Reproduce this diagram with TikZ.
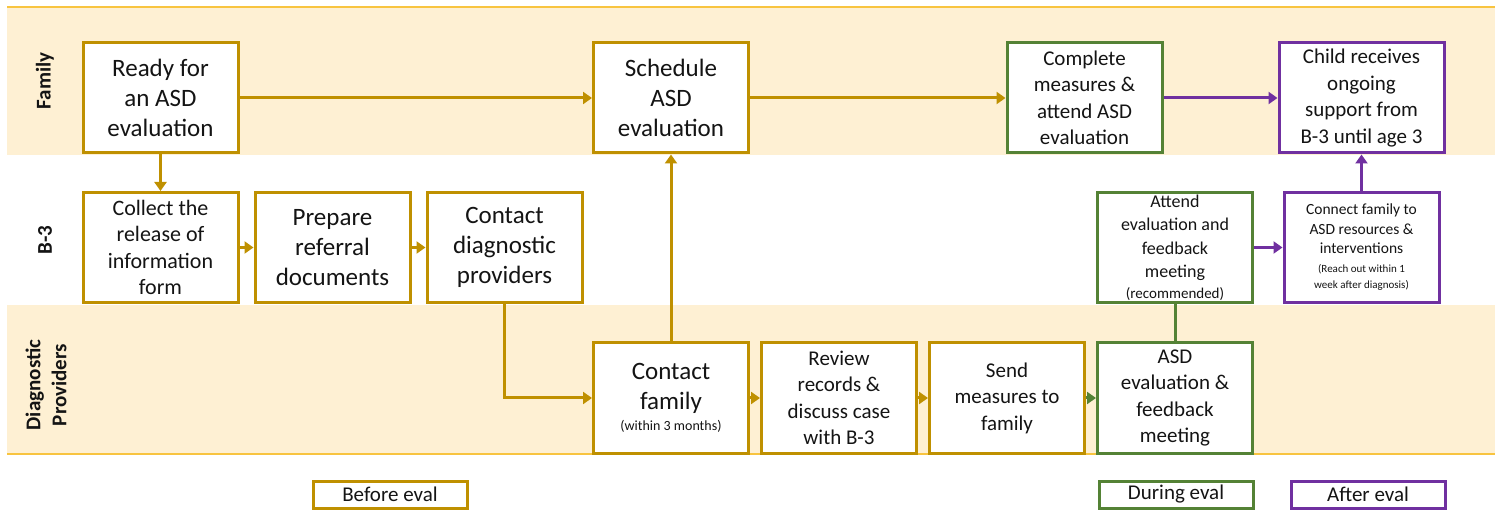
\documentclass[tikz,border=0pt]{standalone}
\usepackage{fontspec}
\setmainfont{Carlito}
\usetikzlibrary{arrows.meta}
\definecolor{gold}{HTML}{BF9000}
\definecolor{evgreen}{HTML}{548235}
\definecolor{evpurple}{HTML}{7030A0}
\definecolor{laneband}{HTML}{FEF0D3}
\definecolor{laneline}{HTML}{F8C440}
\definecolor{ink}{HTML}{141414}
\newcommand\fsz[2]{\fontsize{#1}{#2}\selectfont}
\tikzset{
  box/.style={draw, line width=3pt, fill=white, inner sep=0pt, align=center,
    minimum width=155pt, minimum height=110pt, text=ink},
  beforebox/.style={box, draw=gold},
  duringbox/.style={box, draw=evgreen},
  afterbox/.style={box, draw=evpurple},
  bigtxt/.style={font=\fsz{25}{30}},
  midtxt/.style={font=\fsz{21}{26.5}},
  conn/.style={line width=3pt, -{Triangle[length=9pt,width=12pt]}},
  lanelabel/.style={rotate=90, align=center, text=ink, font=\fsz{21}{26}\bfseries},
  keybox/.style={draw, line width=3pt, fill=white, inner sep=0pt,
    minimum width=154pt, minimum height=27pt, text=ink, font=\fsz{21}{24}},
}
\begin{document}
\begin{tikzpicture}[x=1pt,y=-1pt]
\useasboundingbox (0,0) rectangle (1502,510);

% swim lanes
\fill[laneband] (7,7) rectangle (1495,155);
\fill[laneband] (7,305) rectangle (1495,453);
\draw[laneline, line width=2pt] (7,7) -- (1495,7);
\draw[laneline, line width=2pt] (7,454) -- (1495,454);

\node[lanelabel] (lfam) at (45,81) {Family};
\node[lanelabel] (lb3) at (45,240) {B-3};
\node[lanelabel] (ldiag) at (46,385) {Diagnostic\\Providers};

% family lane
\node[beforebox, bigtxt] (ready) at (160.5,98) {Ready for\\an ASD\\evaluation};
\node[beforebox, bigtxt] (sched) at (671,98) {Schedule\\ASD\\evaluation};
\node[duringbox, midtxt] (complete) at (1084.5,98) {Complete\\measures \&\\attend ASD\\evaluation};
\node[afterbox, midtxt, minimum width=165pt] (child) at (1361.5,98) {Child receives\\ongoing\\support from\\B-3 until age 3};

% B-3 lane
\node[beforebox, font=\fsz{22}{26.5}] (collect) at (160.5,247.5) {Collect the\\release of\\information\\form};
\node[beforebox, bigtxt] (prep) at (332.5,247.5) {Prepare\\referral\\documents};
\node[beforebox, bigtxt] (cdiag) at (504.5,247.5) {Contact\\diagnostic\\providers};
\node[duringbox, font=\fsz{18}{23.5}] (attend) at (1175,247.5) {Attend\\evaluation and\\feedback\\meeting\\[-3pt]{\fsz{15}{18}(recommended)}};
\node[afterbox, font=\fsz{15.5}{19.5}] (connect) at (1361.5,247.5) {Connect family to\\ASD resources \&\\interventions\\[-1pt]{\fsz{11}{14}(Reach out within 1}\\[-3pt]{\fsz{11}{14}week after diagnosis)}};

% diagnostic providers lane
\node[beforebox, bigtxt] (cfam) at (671,398) {Contact\\family\\[-9pt]{\fsz{14}{17}(within 3 months)}};
\node[beforebox, midtxt] (review) at (839,398) {Review\\records \&\\discuss case\\with B-3};
\node[beforebox, midtxt] (send) at (1007,398) {Send\\measures to\\family};
\node[duringbox, midtxt] (asdeval) at (1175,398) {ASD\\evaluation \&\\feedback\\meeting};

% connectors
\draw[conn, gold] (ready) -- (sched);
\draw[conn, gold] (ready) -- (collect);
\draw[conn, gold] (collect) -- (prep);
\draw[conn, gold] (prep) -- (cdiag);
\draw[conn, gold] (cdiag.south) |- (cfam.west);
\draw[conn, gold] (cfam) -- (sched);
\draw[conn, gold] (sched) -- (complete);
\draw[conn, gold] (cfam) -- (review);
\draw[conn, gold] (review) -- (send);
\draw[conn, evgreen] (send) -- (asdeval);
\draw[line width=3pt, evgreen] (asdeval) -- (attend);
\draw[conn, evpurple] (complete) -- (child);
\draw[conn, evpurple] (attend) -- (connect);
\draw[conn, evpurple] (connect) -- (child);

% key
\node[keybox, draw=gold] (kbefore) at (390,494.5) {Before eval};
\node[keybox, draw=evgreen] (kduring) at (1176,494.5) {During eval};
\node[keybox, draw=evpurple] (kafter) at (1368,494.5) {After eval};
\end{tikzpicture}
\end{document}
